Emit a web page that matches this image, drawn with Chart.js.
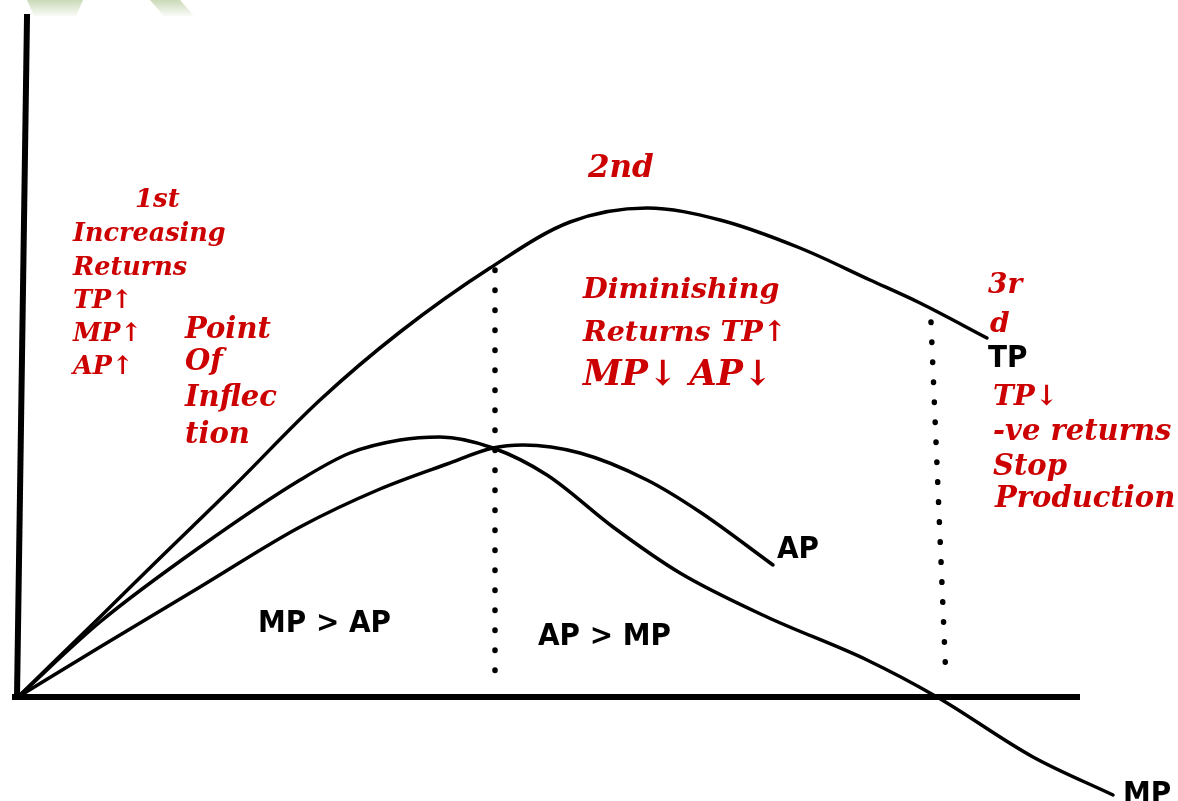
<!DOCTYPE html>
<html>
<head>
<meta charset="utf-8">
<script src="https://cdn.jsdelivr.net/npm/chart.js@4"></script>
<style>
  html, body { margin: 0; padding: 0; background: #fff; }
  #wrap { width: 1178px; height: 801px; position: relative; }
</style>
</head>
<body>
<div id="wrap"><canvas id="myChart"></canvas></div>
<script>
// curves, x = input, y = output (height above the x axis)
const tpX = [18, 100, 160, 233, 320, 400, 490, 570, 647, 720, 800, 870, 920, 987];
const tpY = [0, 80, 139, 210, 297, 365, 429, 475, 489, 477, 449, 417, 394, 359];

const mpX = [18, 100, 200, 300, 350, 400, 440, 493, 547, 613, 680, 767, 867, 937, 1033, 1113];
const mpY = [0, 75, 150, 217, 244, 257, 260, 249, 222, 170, 124, 80, 37, 0, -60, -98];

const apX = [18, 100, 200, 300, 380, 447, 493, 523, 580, 647, 700, 773];
const apY = [0, 50, 110, 170, 208, 233, 249, 252, 244, 217, 185, 132];

// dotted stage boundaries
const stage1X = [495, 495];
const stage1Y = [427, 7];
const stage2X = [931, 946];
const stage2Y = [375, 17];

const X_MIN = 0, X_MAX = 1178, Y_MIN = -104, Y_MAX = 697;
const AXIS_X_START = 15, AXIS_X_END = 1077;
const AXIS_Y_TOP = 680;

const RED = '#cc0000';
const redFont = (s) => 'italic bold ' + s + 'px "DejaVu Serif", serif';
const blackFont = (s) => 'bold ' + s + 'px "Liberation Sans Narrow", "DejaVu Sans Condensed", "DejaVu Sans", sans-serif';

const notes = [
  { t: '1st', x: 135, y: 490, size: 26 },
  { t: 'Increasing', x: 73, y: 456, size: 25.5 },
  { t: 'Returns', x: 73, y: 422, size: 25.5 },
  { t: 'TP\u2191', x: 73, y: 389, size: 25.5 },
  { t: 'MP\u2191', x: 73, y: 356, size: 25.5 },
  { t: 'AP\u2191', x: 73, y: 323, size: 25.5 },
  { t: 'Point', x: 185, y: 359, size: 29 },
  { t: 'Of', x: 185, y: 327, size: 29 },
  { t: 'Inflec', x: 185, y: 291, size: 29 },
  { t: 'tion', x: 185, y: 254, size: 29 },
  { t: '2nd', x: 588, y: 520, size: 31 },
  { t: 'Diminishing', x: 583, y: 399, size: 28.5 },
  { t: 'Returns TP\u2191', x: 583, y: 356, size: 28.5 },
  { t: 'MP\u2193 AP\u2193', x: 583, y: 312, size: 35 },
  { t: '3r', x: 988, y: 404, size: 28 },
  { t: 'd', x: 990, y: 365, size: 28 },
  { t: 'TP\u2193', x: 993, y: 292, size: 28 },
  { t: '-ve returns', x: 993, y: 257, size: 29 },
  { t: 'Stop', x: 993, y: 222, size: 29 },
  { t: 'Production', x: 995, y: 190, size: 29 }
];

const curveLabels = [
  { t: 'MP > AP', x: 258, y: 65 },
  { t: 'AP > MP', x: 538, y: 52 },
  { t: 'AP', x: 777, y: 139 },
  { t: 'TP', x: 988, y: 330 },
  { t: 'MP', x: 1123, y: -106 }
];

const pts = (xs, ys) => xs.map((x, i) => ({ x: x, y: ys[i] }));

const curve = (label, xs, ys) => ({
  label: label,
  data: pts(xs, ys),
  borderColor: '#000',
  borderWidth: 3.5,
  pointRadius: 0,
  cubicInterpolationMode: 'monotone',
  borderCapStyle: 'round',
  fill: false
});

const dotted = (label, xs, ys) => ({
  label: label,
  data: pts(xs, ys),
  borderColor: '#000',
  borderWidth: 5.5,
  borderDash: [0.5, 19.5],
  borderCapStyle: 'round',
  pointRadius: 0,
  tension: 0,
  fill: false
});

const decor = {
  id: 'decor',
  beforeDraw(chart) {
    const ctx = chart.ctx;
    ctx.save();
    ctx.fillStyle = '#fff';
    ctx.fillRect(0, 0, chart.width, chart.height);
    // faint green smudges at the top edge
    const g = ctx.createLinearGradient(0, 0, 0, 18);
    g.addColorStop(0, 'rgba(185,205,160,0.75)');
    g.addColorStop(1, 'rgba(185,205,160,0)');
    ctx.fillStyle = g;
    ctx.beginPath();
    ctx.moveTo(27, 0); ctx.lineTo(83, 0); ctx.lineTo(76, 16); ctx.lineTo(34, 16);
    ctx.closePath(); ctx.fill();
    ctx.beginPath();
    ctx.moveTo(150, 0); ctx.lineTo(180, 0); ctx.lineTo(194, 16); ctx.lineTo(164, 16);
    ctx.closePath(); ctx.fill();
    ctx.restore();
  },
  beforeDatasetsDraw(chart) {
    const { ctx, scales: { x, y } } = chart;
    ctx.save();
    ctx.strokeStyle = '#000';
    ctx.lineWidth = 6;
    ctx.lineCap = 'square';
    ctx.beginPath();
    ctx.moveTo(x.getPixelForValue(AXIS_X_START), y.getPixelForValue(0));
    ctx.lineTo(x.getPixelForValue(AXIS_X_END), y.getPixelForValue(0));
    ctx.stroke();
    ctx.beginPath();
    ctx.moveTo(x.getPixelForValue(17), y.getPixelForValue(0));
    ctx.lineTo(x.getPixelForValue(27), y.getPixelForValue(AXIS_Y_TOP));
    ctx.stroke();
    ctx.restore();
  },
  afterDatasetsDraw(chart) {
    const { ctx, scales: { x, y } } = chart;
    ctx.save();
    ctx.textAlign = 'left';
    ctx.textBaseline = 'alphabetic';
    ctx.fillStyle = RED;
    notes.forEach(n => {
      ctx.font = redFont(n.size);
      ctx.fillText(n.t, x.getPixelForValue(n.x), y.getPixelForValue(n.y));
    });
    ctx.fillStyle = '#000';
    curveLabels.forEach(n => {
      ctx.font = blackFont(31);
      ctx.fillText(n.t, x.getPixelForValue(n.x), y.getPixelForValue(n.y));
    });
    ctx.restore();
  }
};

new Chart(document.getElementById('myChart'), {
  type: 'line',
  data: {
    datasets: [
      curve('TP', tpX, tpY),
      curve('MP', mpX, mpY),
      curve('AP', apX, apY),
      dotted('stage 1|2', stage1X, stage1Y),
      dotted('stage 2|3', stage2X, stage2Y)
    ]
  },
  options: {
    responsive: true,
    maintainAspectRatio: false,
    animation: false,
    layout: { padding: 0 },
    plugins: { legend: { display: false }, tooltip: { enabled: false } },
    scales: {
      x: { type: 'linear', min: X_MIN, max: X_MAX, display: false },
      y: { type: 'linear', min: Y_MIN, max: Y_MAX, display: false }
    }
  },
  plugins: [decor]
});
</script>
</body>
</html>
